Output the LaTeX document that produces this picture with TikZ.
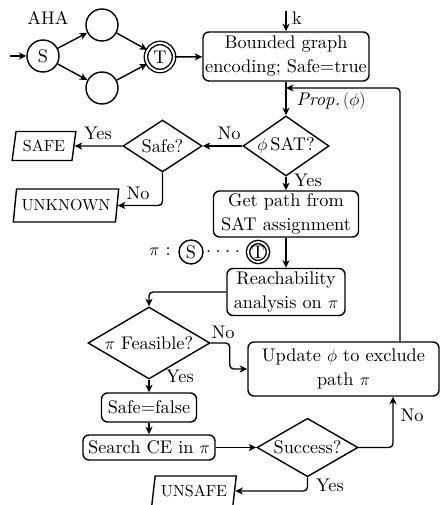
\documentclass[tikz,border=0pt]{standalone}
\usepackage{fontspec}
\setmainfont{lmroman10-regular.otf}[ItalicFont=lmroman10-italic.otf,BoldFont=lmroman10-bold.otf]
\usetikzlibrary{shapes.geometric,arrows.meta,calc}
\begin{document}
\begin{tikzpicture}[x=1pt,y=-1pt,line width=1.4pt,
  every node/.style={font=\fontsize{18.3}{24}\selectfont},
  arr/.style={-{Stealth[length=7.5pt,width=7pt,inset=2pt]}},
  rc/.style={rounded corners=4pt},
  box/.style={draw,rounded corners=6pt,align=center,inner sep=0pt},
  dia/.style={draw,diamond,inner sep=0pt,aspect=1.5},
  io/.style={draw,trapezium,trapezium left angle=76,trapezium right angle=104,
    trapezium stretches=true,inner sep=0pt,font=\fontsize{16}{18}\selectfont},
  st/.style={draw,circle,inner sep=0pt,minimum size=32pt},
  acc/.style={draw,circle,inner sep=0pt,double,double distance=2pt,minimum size=28pt},
  sst/.style={draw,circle,inner sep=0pt,minimum size=24pt},
  sacc/.style={draw,circle,inner sep=0pt,double,double distance=1.8pt,minimum size=20pt},
  lbl/.style={inner sep=0pt}]
\useasboundingbox (0,0) rectangle (440,505);

% AHA automaton
\node[lbl] (aha) at (48,18) {AHA};
\node[st] (s) at (43,56) {S};
\node[st] (u) at (102,25) {};
\node[st] (l) at (102,88) {};
\node[acc] (t) at (160,57) {T};
\coordinate (init) at (10,56);
\draw[arr] (init) -- (s);
\draw[arr] (s) -- (u);
\draw[arr] (s) -- (l);
\draw[arr] (u) -- (t);
\draw[arr] (l) -- (t);

% main flow
\node[box,minimum width=166pt,minimum height=49pt] (enc) at (286,56.5) {Bounded graph\\encoding; Safe=true};
\coordinate (kin) at (286,11);
\node[lbl] (klab) at (297,18) {k};
\draw[arr] (kin) -- (enc);
\draw[arr] (t) -- (enc);

\node[dia,minimum width=86pt,minimum height=60pt] (sat) at (286,146) {$\phi$\,SAT?};
\draw[arr] (enc) -- (sat);
\node[lbl] (prop) at (331,101) {\textit{Prop.}\,$(\phi)$};

\node[dia,minimum width=79pt,minimum height=52pt] (safeq) at (162.5,146) {Safe?};
\draw[arr] (sat) -- (safeq);
\node[lbl] (no1) at (229,133) {No};

\node[io,minimum width=64pt,minimum height=29pt] (safe) at (44,146) {SAFE};
\draw[arr] (safeq) -- (safe);
\node[lbl] (yes1) at (98,133) {Yes};

\node[io,minimum width=106pt,minimum height=33pt] (unk) at (66,205.5) {UNKNOWN};
\draw[arr,rc] (safeq.south) |- (unk.east);
\node[lbl] (no2) at (138,193) {No};

\node[box,minimum width=145pt,minimum height=46pt] (path) at (286,214) {Get path from\\SAT assignment};
\draw[arr] (sat) -- (path);
\node[lbl] (yes2) at (308,180) {Yes};

% pi row
\node[lbl] (pilab) at (160,252) {$\pi$ :};
\node[sst] (ps) at (191,252) {S};
\node[lbl] (dots) at (223,252) {.\hspace{4.5pt}.\hspace{4.5pt}.\hspace{4.5pt}.};
\node[sacc] (pt) at (258,252) {T};

\node[box,minimum width=118pt,minimum height=47pt] (reach) at (286,292) {Reachability\\analysis on $\pi$};
\draw[arr] (path) -- (reach);

\node[dia,minimum width=122pt,minimum height=60pt] (feas) at (149,343) {$\pi$ Feasible?};
\draw[arr,rc] (reach.west) -| (feas.north);

\node[box,minimum width=191pt,minimum height=54pt] (upd) at (343.5,369) {Update $\phi$ to exclude\\path $\pi$};
\draw[arr,rc] (feas.east) -- ++(19,0) |- (upd.west);
\node[lbl] (no3) at (223,332) {No};

\coordinate (join) at (286,88);
\draw[arr,rc] ([xshift=56.5pt]upd.north) |- (join);

\node[box,minimum width=95pt,minimum height=29pt] (sf) at (149,407.5) {Safe=false};
\draw[arr] (feas) -- (sf);
\node[lbl] (yes3) at (180,376) {Yes};

\node[box,minimum width=132pt,minimum height=25pt] (ce) at (149,447.5) {Search CE in $\pi$};
\draw[arr] (sf) -- (ce);

\node[dia,minimum width=101pt,minimum height=51pt] (succ) at (307.5,447.5) {Success?};
\draw[arr] (ce) -- (succ);
\draw[arr,rc] (succ.east) -| ([xshift=49.5pt]upd.south);
\node[lbl] (no4) at (412,415) {No};

\node[io,minimum width=85pt,minimum height=30pt] (unsafe) at (194,491) {UNSAFE};
\draw[arr,rc] (succ.south) |- (unsafe.east);
\node[lbl] (yes4) at (330,485) {Yes};
\end{tikzpicture}
\end{document}
